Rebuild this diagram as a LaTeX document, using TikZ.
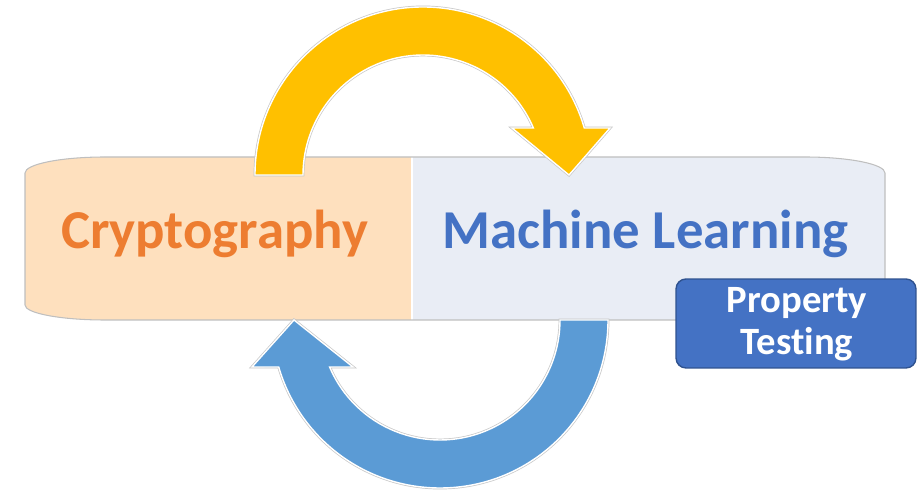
\documentclass[tikz,border=0pt]{standalone}
\usepackage{fontspec}
\setmainfont{Carlito}[Ligatures=NoCommon]

\definecolor{cryorange}{HTML}{ED7D31}
\definecolor{mlblue}{HTML}{4472C4}
\definecolor{ptborder}{HTML}{2F528F}
\definecolor{cryfill}{RGB}{254,224,190}
\definecolor{mlfill}{RGB}{233,237,245}
\definecolor{topyellow}{HTML}{FFC000}
\definecolor{botblue}{HTML}{5B9BD5}

\begin{document}
\begin{tikzpicture}[x=0.02cm,y=0.02cm,
    bigarrow/.style={preaction={draw=black!22,line width=1.6pt},draw=white,line width=0.8pt},
    bigword/.style={anchor=base,inner sep=0pt,font=\fontsize{31.2}{37}\selectfont\bfseries},
    ptbox/.style={rounded corners=0.2cm,fill=mlblue,draw=ptborder,line width=0.8pt,
       minimum width=4.8cm,minimum height=1.78cm,inner sep=0pt},
    ptword/.style={anchor=base,inner sep=0pt,text=white,font=\fontsize{22}{26}\selectfont\bfseries}]
   \useasboundingbox (0,0) rectangle (917,490);
   \def\bandpath{(25,185) -- (25,317) arc[start angle=180,end angle=90,x radius=80,y radius=16]
       -- (805,333) arc[start angle=90,end angle=0,x radius=80,y radius=16]
       -- (885,185) arc[start angle=0,end angle=-90,x radius=80,y radius=15]
       -- (105,170) arc[start angle=-90,end angle=-180,x radius=80,y radius=15] -- cycle}
   % band
   \fill[mlfill] \bandpath;
   \begin{scope}
    \clip (0,0) rectangle (412,490);
    \fill[cryfill] \bandpath;
   \end{scope}
   \draw[white,line width=0.8pt] (412,170) -- (412,333);
   \draw[black!25,line width=0.6pt] \bandpath;
   % arrows
   \filldraw[topyellow,bigarrow] (255,315) arc[start angle=180,end angle=16.25,radius=168]
       -- (610,362) -- (569,315) -- (512,362) -- (533.4,362)
       arc[start angle=23.07,end angle=180,radius=120] -- cycle;
   \filldraw[botblue,bigarrow] (608,170) arc[start angle=0,end angle=-163.75,radius=168]
       -- (252,123) -- (294,170) -- (353,123) -- (329.6,123)
       arc[start angle=-156.93,end angle=0,radius=120] -- cycle;
   % words
   \node[bigword,text=cryorange] (crypto) at (214.5,241) {Cryptography};
   \node[bigword,text=mlblue] (ml) at (645.5,241) {Machine Learning};
   \node[ptbox] (pt) at (796,166.5) {};
   \node[ptword] (ptup) at (797,177) {Property};
   \node[ptword] (ptdown) at (797,135) {Testing};
  \end{tikzpicture}
\end{document}
